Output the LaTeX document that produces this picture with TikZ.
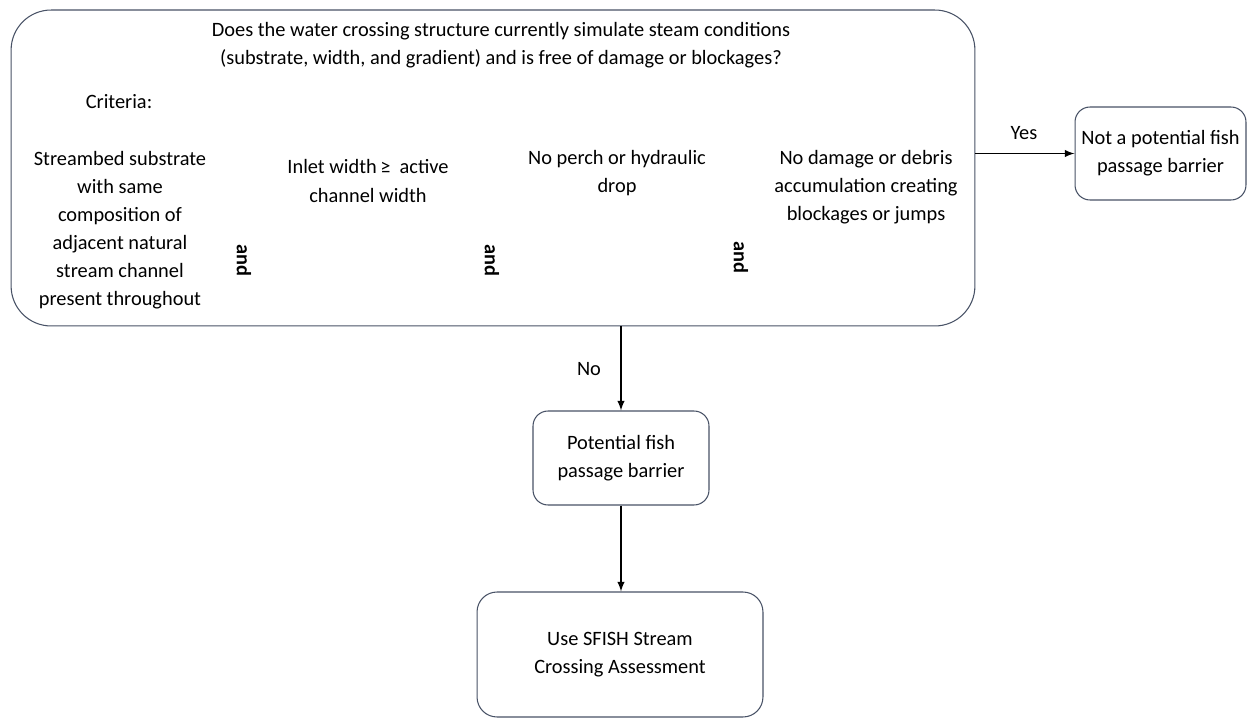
\documentclass[tikz,border=0pt]{standalone}
\usepackage{fontspec}
\setmainfont{Carlito}
\definecolor{boxline}{RGB}{72,82,102}
\begin{document}
\begin{tikzpicture}[x = 0.02cm, y = -0.02cm, >=latex,
    font = \fontsize{11.6}{16}\selectfont,
    box/.style = {draw=boxline, line width=0.6pt, rounded corners=0.3cm},
    txt/.style = {align=center, inner sep=0pt},
    andlbl/.style = {font=\fontsize{11.6}{16}\selectfont\bfseries, rotate=-90, inner sep=0pt},
    flow/.style = {->, line width=0.9pt}]
        \useasboundingbox (0,0) rectangle (1248,719);
        % boxes
        \node[box, rounded corners=0.8cm, minimum width=19.28cm, minimum height=6.32cm] (check) at (493,168) {};
        \node[box, minimum width=3.42cm, minimum height=1.86cm] (notbarrier) at (1160.5,153.5) {};
        \node[box, minimum width=3.52cm, minimum height=1.88cm] (barrier) at (621,458) {};
        \node[box, rounded corners=0.4cm, minimum width=5.72cm, minimum height=2.5cm] (sfish) at (620,654.5) {};
        % texts
        \node[txt] (question) at (501,45) {Does the water crossing structure currently simulate steam conditions\\(substrate, width, and gradient) and is free of damage or blockages?};
        \node[txt] (criteria) at (119,102) {Criteria:};
        \node[txt] (substrate) at (120,230) {Streambed substrate\\with same\\composition of\\adjacent natural\\stream channel\\present throughout};
        \node[txt] (inlet) at (368,181) {Inlet width\,≥~ active\\channel width};
        \node[txt] (perch) at (617,173) {No perch or hydraulic\\drop};
        \node[txt] (debris) at (866,187) {No damage or debris\\accumulation creating\\blockages or jumps};
        \node[andlbl] (and1) at (244,260) {and};
        \node[andlbl] (and2) at (492,260) {and};
        \node[andlbl] (and3) at (741,257) {and};
        \node[txt] at (notbarrier) {Not a potential fish\\passage barrier};
        \node[txt] at (barrier) {Potential fish\\passage barrier};
        \node[txt] at (sfish) {Use SFISH Stream\\Crossing Assessment};
        % connectors
        \draw[flow] (check.east |- notbarrier.west) -- (notbarrier.west);
        \draw[flow] (check.south -| barrier.north) -- (barrier.north);
        \draw[flow] (barrier.south) -- (barrier.south |- sfish.north);
        \node[txt] (yes) at (1024,133) {Yes};
        \node[txt] (no) at (589,369) {No};
      \end{tikzpicture}
\end{document}
